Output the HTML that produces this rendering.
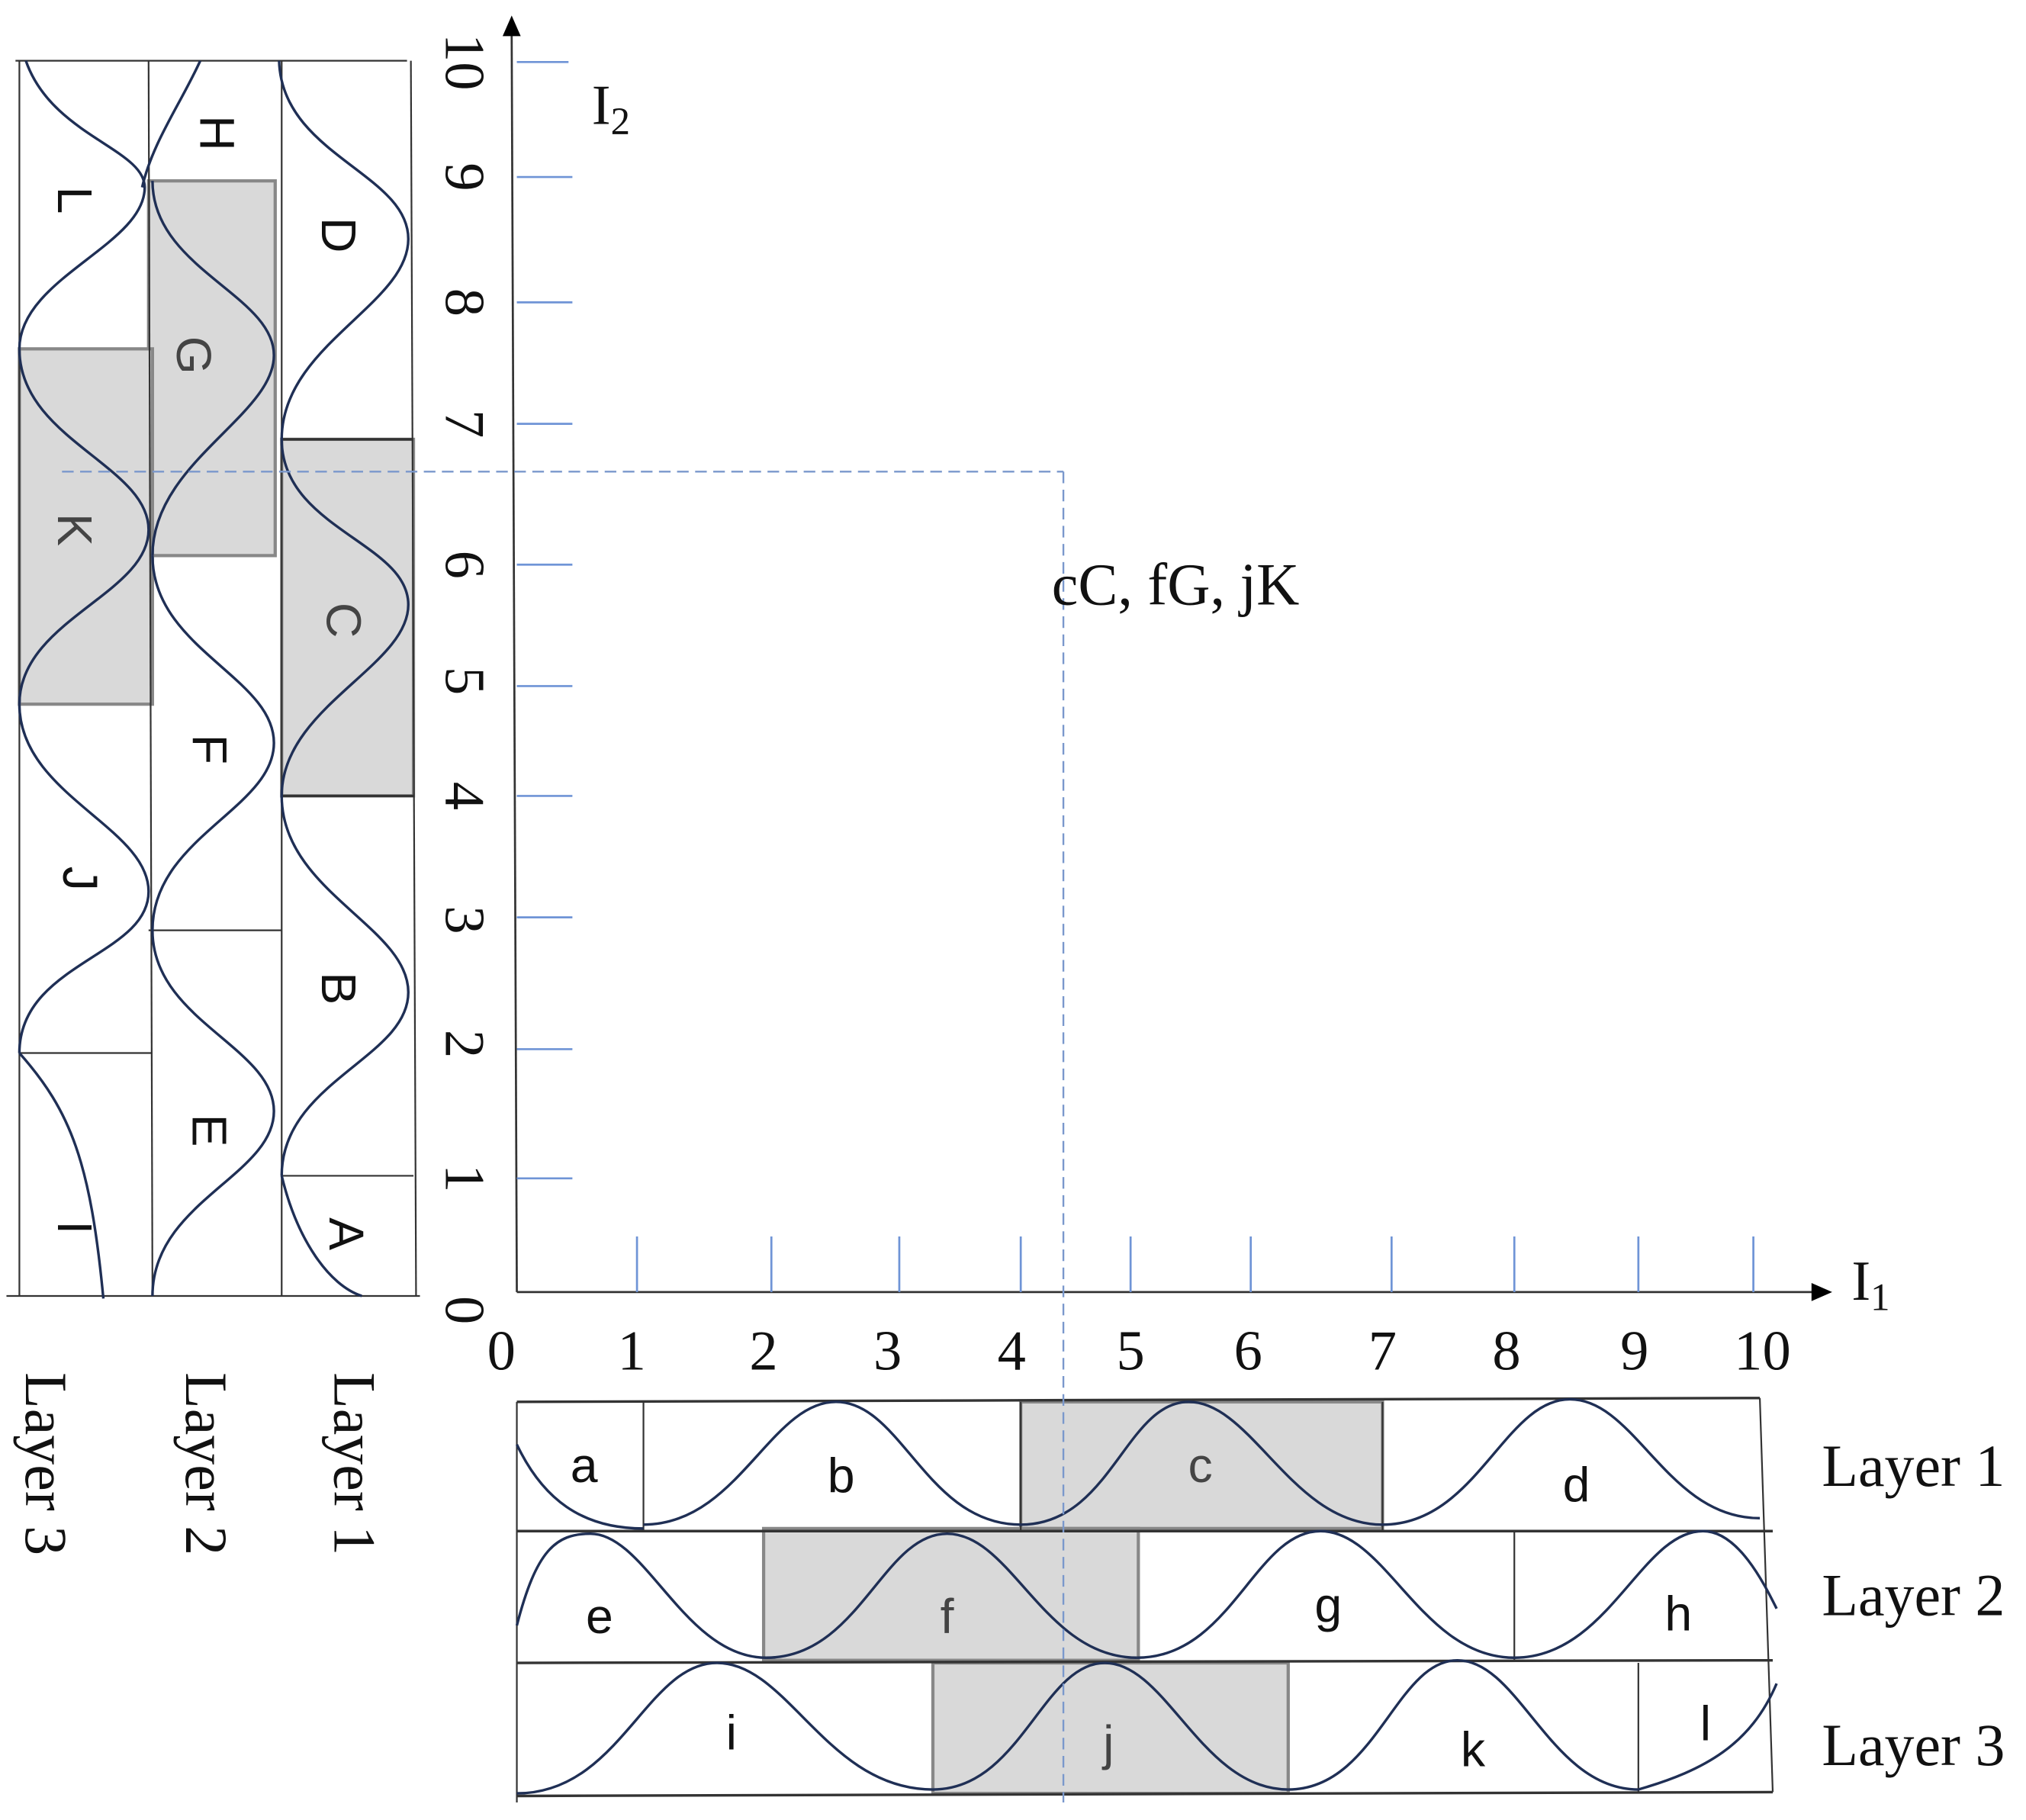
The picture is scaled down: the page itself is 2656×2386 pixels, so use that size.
<!DOCTYPE html>
<html><head><meta charset="utf-8"><style>html,body{margin:0;padding:0;background:#fff}svg{display:block}</style></head>
<body>
<svg width="2656" height="2386" viewBox="0 0 1568 1408.6" preserveAspectRatio="none" xmlns="http://www.w3.org/2000/svg">
<rect width="1568" height="1409" fill="#fff"/>
<g fill="#d9d9d9" stroke="#888" stroke-width="2.5">
<rect x="218" y="340" width="102" height="276"/>
<rect x="115" y="140" width="98" height="290"/>
<rect x="15" y="270" width="103" height="275"/>
<rect x="790" y="1085" width="280" height="98"/>
<rect x="591" y="1183" width="290" height="102"/>
<rect x="722" y="1287" width="275" height="101"/>
</g>
<g stroke="#333" stroke-width="1.3" fill="none">
<line x1="12" y1="47" x2="315" y2="47"/>
<line x1="15" y1="47" x2="15" y2="1003"/>
<line x1="115" y1="47" x2="118" y2="1003"/>
<line x1="218" y1="47" x2="218" y2="1003"/>
<line x1="318" y1="47" x2="322" y2="1003"/>
<line x1="5" y1="1003" x2="325" y2="1003"/>
<line x1="218" y1="340" x2="320" y2="340" stroke-width="2"/>
<line x1="218" y1="616" x2="320" y2="616" stroke-width="2"/>
<line x1="218" y1="910" x2="320" y2="910"/>
<line x1="115" y1="720" x2="218" y2="720"/>
<line x1="15" y1="815" x2="118" y2="815"/>
</g>
<g stroke="#333" stroke-width="1.3" fill="none">
<line x1="400" y1="1085" x2="1362" y2="1082" stroke-width="2"/>
<line x1="400" y1="1185" x2="1372" y2="1185" stroke-width="2"/>
<line x1="400" y1="1287" x2="1372" y2="1285" stroke-width="2"/>
<line x1="400" y1="1390" x2="1372" y2="1387" stroke-width="2"/>
<line x1="400" y1="1085" x2="400" y2="1395"/>
<line x1="1362" y1="1082" x2="1372" y2="1387"/>
<line x1="498" y1="1085" x2="498" y2="1185"/>
<line x1="790" y1="1085" x2="790" y2="1185"/>
<line x1="1070" y1="1085" x2="1070" y2="1185"/>
<line x1="1172" y1="1185" x2="1172" y2="1285"/>
<line x1="1268" y1="1287" x2="1268" y2="1387"/>
</g>
<g stroke="#1f2f55" stroke-width="2" fill="none">
<path d="M400,1118 C420,1160 450,1183 498,1183"/>
<path d="M498,1180 C571,1180 596,1085 647,1085 C698,1085 717,1180 790,1180"/>
<path d="M790,1180 C860,1180 871,1085 920,1085 C969,1085 1000,1180 1070,1180"/>
<path d="M1070,1180 C1143,1180 1164,1083 1215,1083 C1266,1083 1290,1175 1362,1175"/>
<path d="M400,1258 C415,1200 430,1187 457,1187 C500,1187 530,1283 593,1283"/>
<path d="M593,1283 C665,1283 683,1187 733,1187 C783,1187 808,1283 880,1283"/>
<path d="M880,1283 C953,1283 971,1185 1022,1185 C1073,1185 1100,1283 1172,1283"/>
<path d="M1172,1283 C1245,1283 1270,1185 1318,1185 C1345,1185 1365,1225 1375,1245"/>
<path d="M400,1388 C480,1388 500,1287 555,1287 C610,1287 640,1385 722,1385"/>
<path d="M722,1385 C790,1385 807,1287 855,1287 C903,1287 930,1385 997,1385"/>
<path d="M997,1385 C1065,1385 1080,1285 1128,1285 C1176,1285 1200,1385 1268,1385"/>
<path d="M1268,1385 C1320,1370 1355,1350 1375,1303"/>
<path d="M216,47 C218,120 316,134 316,185 C316,236 218,267 218,340"/>
<path d="M218,340 C218,409 316,420 316,468 C316,516 218,547 218,616"/>
<path d="M218,616 C218,690 316,717 316,768 C316,819 218,837 218,910"/>
<path d="M218,910 C230,960 255,995 280,1003"/>
<path d="M155,47 C140,80 118,110 110,145"/>
<path d="M118,140 C118,208 212,228 212,275 C212,322 118,358 118,430"/>
<path d="M118,430 C118,502 212,524 212,575 C212,626 118,648 118,720"/>
<path d="M118,720 C118,790 212,810 212,860 C212,910 118,930 118,1003"/>
<path d="M20,47 C40,105 112,115 112,145 C112,190 15,215 15,270"/>
<path d="M15,270 C15,340 115,360 115,410 C115,460 15,480 15,545"/>
<path d="M15,545 C15,615 115,640 115,690 C115,740 15,745 15,815"/>
<path d="M15,815 C55,860 70,900 80,1005"/>
</g>
<g stroke="#333" stroke-width="1.6">
<line x1="400" y1="1000" x2="396" y2="25"/>
<line x1="400" y1="1000" x2="1405" y2="1000"/>
</g>
<polygon points="396,12 389,28 403,28" fill="#000"/>
<polygon points="1418,1000 1402,993 1402,1007" fill="#000"/>
<g stroke="#6f94d6" stroke-width="1.6">
<line x1="400" y1="48" x2="440" y2="48"/><line x1="400" y1="137" x2="443" y2="137"/>
<line x1="400" y1="234" x2="443" y2="234"/><line x1="400" y1="328" x2="443" y2="328"/>
<line x1="400" y1="437" x2="443" y2="437"/><line x1="400" y1="531" x2="443" y2="531"/>
<line x1="400" y1="616" x2="443" y2="616"/><line x1="400" y1="710" x2="443" y2="710"/>
<line x1="400" y1="812" x2="443" y2="812"/><line x1="400" y1="912" x2="443" y2="912"/>
<line x1="493" y1="957" x2="493" y2="1000"/><line x1="597" y1="957" x2="597" y2="1000"/>
<line x1="696" y1="957" x2="696" y2="1000"/><line x1="790" y1="957" x2="790" y2="1000"/>
<line x1="875" y1="957" x2="875" y2="1000"/><line x1="968" y1="957" x2="968" y2="1000"/>
<line x1="1077" y1="957" x2="1077" y2="1000"/><line x1="1172" y1="957" x2="1172" y2="1000"/>
<line x1="1268" y1="957" x2="1268" y2="1000"/><line x1="1357" y1="957" x2="1357" y2="1000"/>
</g>
<g stroke="#7a98cc" stroke-width="1.4" stroke-dasharray="9,5" fill="none">
<line x1="48" y1="365" x2="823" y2="365"/>
<line x1="823" y1="365" x2="823" y2="1395"/>
</g>
<g font-family="Liberation Serif, serif" font-size="44" fill="#111" text-anchor="middle">
<text x="388" y="1060">0</text><text x="489" y="1060">1</text><text x="591" y="1060">2</text>
<text x="687" y="1060">3</text><text x="783" y="1060">4</text><text x="875" y="1060">5</text>
<text x="966" y="1060">6</text><text x="1070" y="1060">7</text><text x="1166" y="1060">8</text>
<text x="1265" y="1060">9</text><text x="1364" y="1060">10</text>
<g transform="rotate(90 360 48)"><text x="360" y="63">10</text></g>
<g transform="rotate(90 360 137)"><text x="360" y="152">9</text></g>
<g transform="rotate(90 360 234)"><text x="360" y="249">8</text></g>
<g transform="rotate(90 360 328)"><text x="360" y="343">7</text></g>
<g transform="rotate(90 360 437)"><text x="360" y="452">6</text></g>
<g transform="rotate(90 360 527)"><text x="360" y="542">5</text></g>
<g transform="rotate(90 360 616)"><text x="360" y="631">4</text></g>
<g transform="rotate(90 360 712)"><text x="360" y="727">3</text></g>
<g transform="rotate(90 360 808)"><text x="360" y="823">2</text></g>
<g transform="rotate(90 360 912)"><text x="360" y="927">1</text></g>
<g transform="rotate(90 360 1014)"><text x="360" y="1029">0</text></g>
</g>
<g font-family="Liberation Serif, serif" fill="#111">
<text x="458" y="96" font-size="44">I<tspan font-size="30" dy="8">2</tspan></text>
<text x="1433" y="1006" font-size="44">I<tspan font-size="30" dy="8">1</tspan></text>
<text x="814" y="468" font-size="46">cC, fG, jK</text>
<text x="1410" y="1150" font-size="46">Layer 1</text>
<text x="1410" y="1250" font-size="46">Layer 2</text>
<text x="1410" y="1366" font-size="46">Layer 3</text>
<g transform="rotate(90 36 1133)"><text x="36" y="1149" font-size="46" text-anchor="middle">Layer 3</text></g>
<g transform="rotate(90 160 1133)"><text x="160" y="1149" font-size="46" text-anchor="middle">Layer 2</text></g>
<g transform="rotate(90 275 1133)"><text x="275" y="1149" font-size="46" text-anchor="middle">Layer 1</text></g>
</g>
<g font-family="Liberation Sans, sans-serif" font-size="38" fill="#111" text-anchor="middle">
<text x="452" y="1147">a</text><text x="651" y="1155">b</text><text x="929" y="1147" fill="#444">c</text><text x="1220" y="1162">d</text>
<text x="464" y="1264">e</text><text x="733" y="1264" fill="#444">f</text><text x="1028" y="1255">g</text><text x="1299" y="1262">h</text>
<text x="566" y="1354">i</text><text x="858" y="1362" fill="#444">j</text><text x="1140" y="1367">k</text><text x="1320" y="1347">l</text>
<g transform="rotate(90 262 182)"><text x="262" y="195">D</text></g>
<g transform="rotate(90 266 480)"><text x="266" y="493" fill="#444">C</text></g>
<g transform="rotate(90 262 765)"><text x="262" y="778">B</text></g>
<g transform="rotate(90 268 955)"><text x="268" y="968">A</text></g>
<g transform="rotate(90 168 103)"><text x="168" y="116">H</text></g>
<g transform="rotate(90 150 275)"><text x="150" y="288" fill="#444">G</text></g>
<g transform="rotate(90 162 580)"><text x="162" y="593">F</text></g>
<g transform="rotate(90 162 875)"><text x="162" y="888">E</text></g>
<g transform="rotate(90 58 155)"><text x="58" y="168">L</text></g>
<g transform="rotate(90 58 410)"><text x="58" y="423" fill="#444">K</text></g>
<g transform="rotate(90 62 680)"><text x="62" y="693">J</text></g>
<g transform="rotate(90 58 950)"><text x="58" y="963">I</text></g>
</g>
</svg>
</body></html>
